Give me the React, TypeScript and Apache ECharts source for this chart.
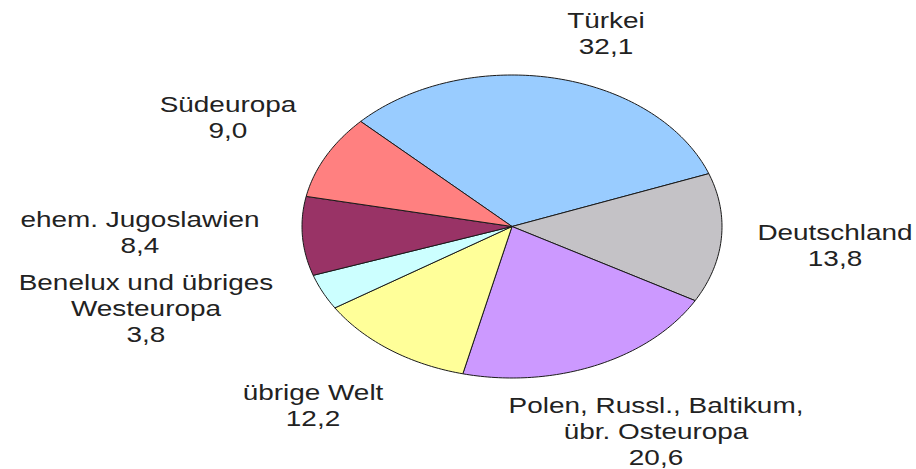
import React, { useEffect, useRef } from "react";
import * as echarts from "echarts";

// Data (clockwise order, starting at the upper-left edge of the Türkei slice)
const categories = [
  "Türkei",
  "Deutschland",
  "Polen, Russl., Baltikum,\nübr. Osteuropa",
  "übrige Welt",
  "Benelux und übriges\nWesteuropa",
  "ehem. Jugoslawien",
  "Südeuropa",
];
const values = [32.1, 13.8, 20.6, 12.2, 3.8, 8.4, 9.0];

// Styles / layout
const colors = ["#99CCFF", "#C4C2C6", "#CC99FF", "#FFFF99", "#CCFFFF", "#993366", "#FF8080"];
const labelCenters: number[][] = [
  [606, 33],
  [835, 245],
  [656, 431],
  [313, 405],
  [146, 308],
  [140, 232],
  [228, 117.5],
];
const PIE = { cx: 512, cy: 226.5, rx: 210, ry: 151.5, startAngle: 136.1 };

const fmt = (v: number) => v.toFixed(1).replace(".", ",");

export default function App() {
  const ref = useRef<HTMLDivElement>(null);
  useEffect(() => {
    if (!ref.current) return;
    const chart = echarts.init(ref.current, undefined, { renderer: "svg" });
    const total = values.reduce((a, b) => a + b, 0);
    const renderItem = (params: any, api: any) => {
      const i = params.dataIndex;
      let before = 0;
      for (let k = 0; k < i; k++) before += values[k];
      const v = api.value(0);
      const a0 = PIE.startAngle - (before / total) * 360;
      const a1 = a0 - (v / total) * 360;
      const pts: number[][] = [[PIE.cx, PIE.cy]];
      const n = Math.max(2, Math.ceil(Math.abs(a0 - a1)));
      for (let s = 0; s <= n; s++) {
        const a = ((a0 + ((a1 - a0) * s) / n) * Math.PI) / 180;
        pts.push([PIE.cx + PIE.rx * Math.cos(a), PIE.cy - PIE.ry * Math.sin(a)]);
      }
      return {
        type: "group",
        children: [
          {
            type: "polygon",
            shape: { points: pts },
            style: { fill: colors[i], stroke: "#1a1a1a", lineWidth: 1 },
          },
          {
            type: "text",
            x: labelCenters[i][0],
            y: labelCenters[i][1],
            scaleX: 1.27,
            style: {
              text: categories[i] + "\n" + fmt(v),
              x: 0,
              y: 0,
              align: "center",
              verticalAlign: "middle",
              fontSize: 22,
              fontFamily: "'Liberation Sans', Arial, sans-serif",
              fill: "#222222",
              lineHeight: 26,
            },
          },
        ],
      };
    };
    chart.setOption({
      animation: false,
      backgroundColor: "#ffffff",
      series: [
        {
          type: "custom",
          coordinateSystem: "none",
          renderItem,
          data: values.map((v) => [v]),
        },
      ],
    });
    return () => chart.dispose();
  }, []);
  return (
    <div
      ref={ref}
      style={{ position: "fixed", left: 0, top: 0, width: 916, height: 469, background: "#fff" }}
    />
  );
}
